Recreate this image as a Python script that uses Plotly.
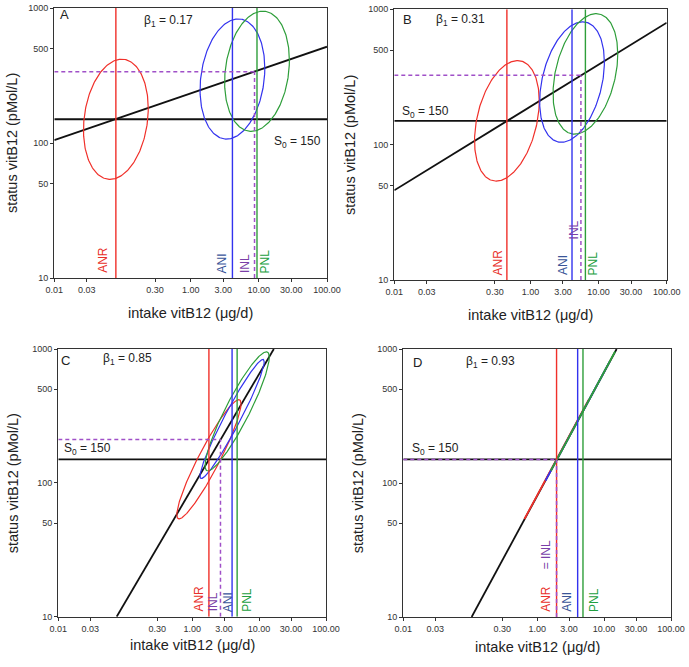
import numpy as np
import plotly.graph_objects as go

# ---------------- data ----------------
panels = ["A", "B", "C", "D"]
beta1 = [0.17, 0.31, 0.85, 0.93]
S0 = 150
ANR = [0.08, 0.45, 1.78, 1.95]
ANI = [4.1, 4.07, 3.95, 4.03]
PNL = [9.4, 6.4, 4.7, 4.84]
INL = [8.65, 5.5, 2.65, 1.95]
INL_status = [337, 325, 211, 150]

# regression line end points (intake, status)
line_x0 = [0.01, 0.01, 0.0745, 0.105]
line_y0 = [105, 46, 10, 10]
line_x1 = [100, 100, 16.6, 15.4]
line_y1 = [517, 796, 1000, 1000]

# ellipse centres (status) for ANR / ANI / PNL groups, spreads in decades and correlation
ell_status_ANR = [150, 150, 150, 150]
ell_status_ANI = [298, 290, 300, 290]
ell_status_PNL = [340, 333, 342, 344]
ell_sx = [0.475, 0.475, 0.48, 0.48]
ell_sy = [0.445, 0.445, 0.445, 0.445]
ell_rho_ANR = [0.18, 0.33, 0.93, 1.0]
ell_rho_ANI = [0.18, 0.33, 0.96, 1.0]
ell_rho_PNL = [0.18, 0.33, 0.91, 1.0]

x_ticks = [0.01, 0.03, 0.3, 1, 3, 10, 30, 100]
x_ticktext = ["0.01", "0.03", "0.30", "1.00", "3.00", "10.00", "30.00", "100.00"]
y_ticks = [10, 50, 100, 500, 1000]
y_ticktext = ["10", "50", "100", "500", "1000"]

x_title = "intake vitB12 (μg/d)"
y_title = "status vitB12 (pMol/L)"

# ---------------- styling ----------------
W, H = 689, 667
FONT = "Liberation Sans, Arial, sans-serif"
RED = "#f0302a"
BLUE = "#3333ee"
GREEN = "#2e9e3a"
PURPLE = "#a050c8"
RED_T = "#e8302a"
BLUE_T = "#3a5598"
PURPLE_T = "#7b3fa8"
GREEN_T = "#22a040"

# plot areas in pixels (left, top, right, bottom)
boxes = [
    (54.3, 8.0, 327.0, 278.0),
    (394.3, 9.3, 666.7, 280.0),
    (58.3, 349.0, 326.0, 616.7),
    (403.3, 349.0, 671.0, 617.0),
]
X_RANGE = [-2, 2]
Y_RANGE = [1, 3]


def px(x):
    return x / W


def py(y):
    return 1 - y / H


fig = go.Figure()
t = np.linspace(0, 2 * np.pi, 241)


def ellipse(cx, cy, sx, sy, rho):
    lx = np.log10(cx) + sx * np.cos(t)
    ly = np.log10(cy) + sy * (rho * np.cos(t) + np.sqrt(max(0.0, 1 - rho ** 2)) * np.sin(t))
    return 10 ** lx, 10 ** ly


annotations = []
for i, p in enumerate(panels):
    xa = "x" if i == 0 else f"x{i+1}"
    ya = "y" if i == 0 else f"y{i+1}"
    common = dict(xaxis=xa, yaxis=ya, showlegend=False, hoverinfo="skip", mode="lines")

    # S0 horizontal line
    fig.add_trace(go.Scatter(x=[0.01, 100], y=[S0, S0], line=dict(color="#111", width=1.8), **common))
    # regression line
    fig.add_trace(go.Scatter(x=[line_x0[i], line_x1[i]], y=[line_y0[i], line_y1[i]],
                             line=dict(color="#111", width=1.8), **common))
    # ellipses
    for cx, cy, rho, col in [(ANR[i], ell_status_ANR[i], ell_rho_ANR[i], RED),
                             (ANI[i], ell_status_ANI[i], ell_rho_ANI[i], BLUE),
                             (PNL[i], ell_status_PNL[i], ell_rho_PNL[i], GREEN)]:
        ex, ey = ellipse(cx, cy, ell_sx[i], ell_sy[i], rho)
        w = 1.2 if rho < 1 else 1.8
        fig.add_trace(go.Scatter(x=ex, y=ey, line=dict(color=col, width=w), **common))
    # vertical lines
    for v, col in [(ANR[i], RED), (ANI[i], BLUE), (PNL[i], GREEN)]:
        fig.add_trace(go.Scatter(x=[v, v], y=[10, 1000], line=dict(color=col, width=1.4), **common))
    # INL dashed
    fig.add_trace(go.Scatter(x=[0.01, INL[i]], y=[INL_status[i], INL_status[i]],
                             line=dict(color=PURPLE, width=1.5, dash="4px,3px"), **common))
    fig.add_trace(go.Scatter(x=[INL[i], INL[i]], y=[10, INL_status[i]],
                             line=dict(color=PURPLE, width=1.5, dash="4px,3px"), **common))

    l, tp, r, b = boxes[i]
    ax = dict(type="log", domain=[px(l), px(r)], range=X_RANGE, tickvals=x_ticks, ticktext=x_ticktext,
              showline=True, mirror=True, linecolor="#333", linewidth=1.3, ticks="outside",
              ticklen=3, tickcolor="#333", tickfont=dict(size=9, color="#333", family=FONT),
              showgrid=False, zeroline=False, anchor=ya, automargin=False)
    ay = dict(type="log", domain=[py(b), py(tp)], range=Y_RANGE, tickvals=y_ticks, ticktext=y_ticktext,
              showline=True, mirror=True, linecolor="#333", linewidth=1.3, ticks="outside",
              ticklen=3, tickcolor="#333", tickfont=dict(size=9, color="#333", family=FONT),
              showgrid=False, zeroline=False, anchor=xa, automargin=False)
    fig.update_layout(**{("xaxis" if i == 0 else f"xaxis{i+1}"): ax,
                         ("yaxis" if i == 0 else f"yaxis{i+1}"): ay})

# ---------------- text ----------------
def ann(text, x, y, size, color="#222", xanchor="center", yanchor="middle", angle=0):
    annotations.append(dict(text=text, x=px(x), y=py(y), xref="paper", yref="paper", showarrow=False,
                            xanchor=xanchor, yanchor=yanchor, textangle=angle,
                            font=dict(size=size, color=color, family=FONT)))


# axis titles
ytitle_pos = [(12, 143), (350, 145), (13.3, 483), (358.3, 483)]
xtitle_pos = [(190.7, 313), (530.5, 315), (192, 645), (537, 646.7)]
for i in range(4):
    ann(y_title, *ytitle_pos[i], 14.5, angle=-90)
    ann(x_title, *xtitle_pos[i], 14.5)

# panel letters and beta text
letter_pos = [(64, 15), (407.5, 19), (65.5, 360), (417.5, 362.5)]
beta_pos = [(168, 21), (460, 20), (127, 359), (490, 362)]
for i, p in enumerate(panels):
    ann(p, *letter_pos[i], 13)
    ann(f"β<sub>1</sub> = {beta1[i]:.2f}", *beta_pos[i], 12)

# S0 labels
s0_text = f"S<sub>0</sub> = {S0}"
ann(s0_text, 323, 142, 12, xanchor="right")
ann(s0_text, 400, 112, 12, xanchor="left")
ann(s0_text, 61.7, 449, 12, xanchor="left")
ann(s0_text, 410, 449, 12, xanchor="left")

# vertical line labels: (panel, text, colour, x value, offset px from line, raise px)
line_labels = [
    (0, "ANR", RED_T, ANR[0], -13, 0), (0, "ANI", BLUE_T, ANI[0], -10, 0),
    (0, "INL", PURPLE_T, INL[0], -9, 0), (0, "PNL", GREEN_T, PNL[0], 8.5, 0),
    (1, "ANR", RED_T, ANR[1], -8.5, 0), (1, "ANI", BLUE_T, ANI[1], -9, 0),
    (1, "INL", PURPLE_T, INL[1], -7, 36), (1, "PNL", GREEN_T, PNL[1], 8, 0),
    (2, "ANR", RED_T, ANR[2], -10, 0), (2, "INL", PURPLE_T, INL[2], -7.4, 0),
    (2, "ANI", BLUE_T, ANI[2], -4.6, 0), (2, "PNL", GREEN_T, PNL[2], 10, 0),
    (3, "ANR", RED_T, ANR[3], -10.7, 0), (3, "= INL", PURPLE_T, ANR[3], -10.7, 43),
    (3, "ANI", BLUE_T, ANI[3], -10.8, 0), (3, "PNL", GREEN_T, PNL[3], 11, 0),
]
for (i, text, col, xv, xs, rz) in line_labels:
    l, tp, r, b = boxes[i]
    frac = (np.log10(xv) - X_RANGE[0]) / (X_RANGE[1] - X_RANGE[0])
    xpix = l + frac * (r - l) + xs
    ann(text, xpix, b - 3 - rz, 12, color=col, xanchor="center", yanchor="bottom", angle=-90)

fig.update_layout(template="none", width=W, height=H, margin=dict(l=0, r=0, t=0, b=0, pad=0),
                  paper_bgcolor="white", plot_bgcolor="white", annotations=annotations,
                  font=dict(family=FONT))

fig.write_html("out.html", config={"displayModeBar": False, "staticPlot": True},
               post_script="document.body.style.margin='0px';document.body.style.overflow='hidden';")
